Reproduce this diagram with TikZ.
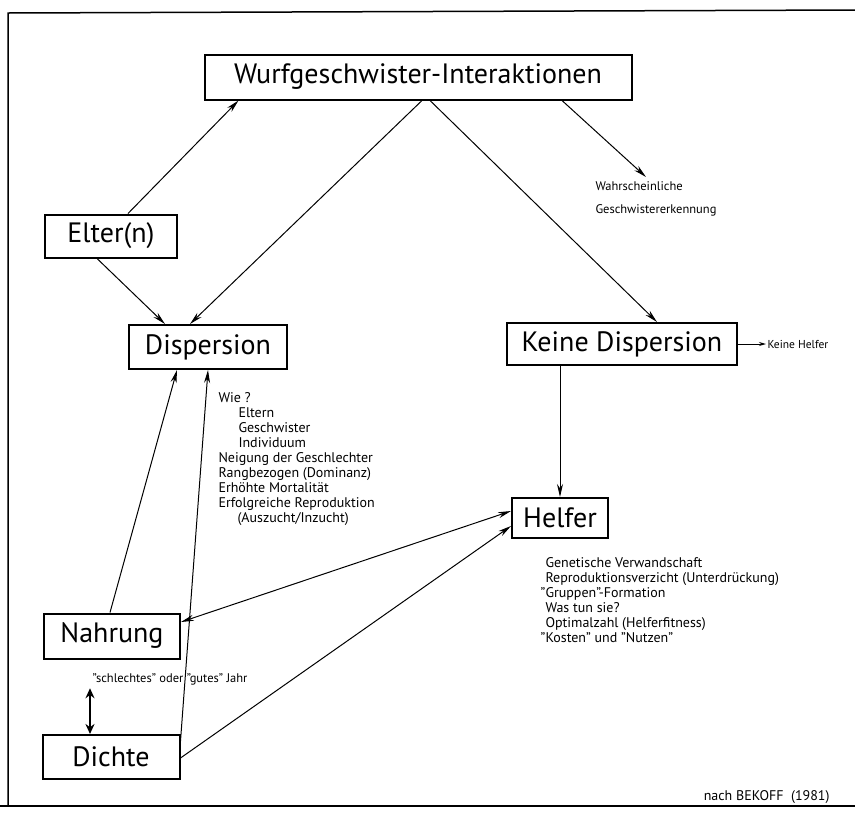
\documentclass[tikz,border=0pt]{standalone}
\usepackage{fontspec}
\setmainfont{PT Sans}
\usetikzlibrary{arrows.meta,positioning}

\tikzset{
  box/.style={draw,line width=2pt,inner sep=0pt,font=\fontsize{28}{30}\selectfont},
  note/.style={inner sep=0pt,align=left,font=\fontsize{14}{15}\selectfont},
}

\begin{document}
\begin{tikzpicture}[x=1pt,y=-1pt,->,>={Stealth[length=13pt,width=6pt]},line width=1pt]
  \useasboundingbox (0,0) rectangle (855,815);
  % Rahmen
  \draw[-,line width=1.5pt] (855,10) -- (8,13) -- (8,806);
  \draw[-,line width=2pt] (0,806) -- (855,806);

  \node[box,minimum width=427pt,minimum height=45pt](wurf) at (418,77) {Wurfgeschwister-Interaktionen};
  \node[box,minimum width=132pt,minimum height=43pt](elter) at (111,236) {Elter(n)};
  \node[box,minimum width=158pt,minimum height=44pt](disp) at (208,347) {Dispersion};
  \node[box,minimum width=230pt,minimum height=42pt](kdisp) at (622,344) {Keine Dispersion};
  \node[box,minimum width=96pt,minimum height=40pt](helfer) at (560,518) {Helfer};
  \node[box,minimum width=136pt,minimum height=45pt](nahrung) at (112,636) {Nahrung};
  \node[box,minimum width=137pt,minimum height=44pt](dichte) at (111,757) {Dichte};

  \node[note,font=\fontsize{12.5}{23}\selectfont,anchor=north west](wahr) at (595,181) {Wahrscheinliche\\Geschwistererkennung};
  \node[note,font=\fontsize{11.5}{13}\selectfont](khelfer)[right=29pt of kdisp]{Keine Helfer};
  \node[note,anchor=north west](wie) at (218,392) {Wie ?\\
    \hspace*{20pt}Eltern\\
    \hspace*{20pt}Geschwister\\
    \hspace*{20pt}Individuum\\
    Neigung der Geschlechter\\
    Rangbezogen (Dominanz)\\
    Erhöhte Mortalität\\
    Erfolgreiche Reproduktion\\
    \hspace*{19pt}(Auszucht/Inzucht)};
  \node[note,anchor=north west](aufgaben) at (545,557) {Genetische Verwandschaft\\
    Reproduktionsverzicht (Unterdrückung)\\
    \leavevmode\llap{"}Gruppen"-Formation\\
    Was tun sie?\\
    Optimalzahl (Helferfitness)\\
    \leavevmode\llap{"}Kosten" und "Nutzen"};
  \node[note,font=\fontsize{12.5}{13}\selectfont](jahr) at (170,679) {"schlechtes" oder "gutes" Jahr};
  \node[note,anchor=east](quelle) at (830,797) {nach BEKOFF\ \ (1981)};
  \coordinate (dtop) at ([xshift=-21pt]dichte.north);

  \path([xshift=17pt]elter.north) edge ([xshift=35pt]wurf.south west);
  \path([xshift=-14pt]elter.south) edge ([xshift=-43pt]disp.north);
  \path([xshift=4pt]wurf.south) edge ([xshift=-18pt]disp.north);
  \path([xshift=12pt]wurf.south) edge ([xshift=35pt]kdisp.north);
  \path([xshift=144pt]wurf.south) edge ([xshift=51pt,yshift=4pt]wahr.north west);
  \path(kdisp.east) edge [>={Stealth[length=7pt,width=4pt]},shorten >=1pt] (khelfer.west);
  \path(kdisp.south -| helfer.north) edge (helfer.north);
  \path([xshift=-2pt]nahrung.north) edge ([xshift=-31pt]disp.south);
  \path([yshift=-7pt]dichte.north east) edge (disp.south);
  \path([yshift=14pt]nahrung.east) edge [<->] ([yshift=7pt]helfer.west);
  \path([yshift=-1pt]dichte.east) edge ([yshift=-8pt]helfer.west);
  \draw[<->,line width=2pt,>={Stealth[length=10pt,width=9pt]},shorten <=3pt] (jahr.south -| dtop) -- (dtop);
\end{tikzpicture}
\end{document}
